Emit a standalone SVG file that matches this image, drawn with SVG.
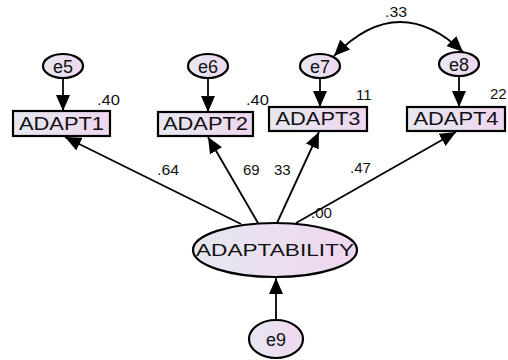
<svg xmlns="http://www.w3.org/2000/svg" width="508" height="360" viewBox="0 0 508 360">
<defs>
<linearGradient id="g" x1="0" y1="0" x2="1" y2="0">
<stop offset="0" stop-color="#e6e8f0"/>
<stop offset="1" stop-color="#f0d6f0"/>
</linearGradient>
<marker id="ah" viewBox="0 0 16 14" markerWidth="16" markerHeight="14" refX="16" refY="7" markerUnits="userSpaceOnUse" orient="auto-start-reverse">
<path d="M0,0 L16,7 L0,14 z" fill="#000"/>
</marker>
</defs>
<style>
.n{fill:url(#g);stroke:#000;stroke-width:2.2}
.t{font-family:"Liberation Sans",Arial,sans-serif;fill:#111;text-anchor:middle}
.lab{font-size:18px}
.num{font-family:"Liberation Sans",Arial,sans-serif;font-size:15px;fill:#111}
.c{fill:none;stroke:#000;stroke-width:1.8;marker-end:url(#ah)}
</style>
<g id="connectors">
<line class="c" x1="63" y1="78" x2="63" y2="111"/>
<line class="c" x1="208" y1="78" x2="208" y2="112"/>
<line class="c" x1="320" y1="78" x2="320" y2="107"/>
<line class="c" x1="459" y1="76" x2="459" y2="107"/>
<line class="c" x1="241" y1="224" x2="65" y2="137"/>
<line class="c" x1="258" y1="223" x2="208" y2="137"/>
<line class="c" x1="277" y1="223" x2="319" y2="132"/>
<line class="c" x1="296" y1="223" x2="456" y2="132"/>
<line class="c" x1="276" y1="320" x2="276" y2="278"/>
<path class="c" d="M334,56 Q398,-10 463,52" marker-start="url(#ah)"/>
</g>
<g id="e5"><ellipse class="n" cx="63" cy="66" rx="20" ry="12"/><text class="t lab" x="63" y="72.5" font-size="19">e5</text></g>
<g id="e6"><ellipse class="n" cx="208" cy="66" rx="20" ry="12"/><text class="t lab" x="208" y="72.5" font-size="19">e6</text></g>
<g id="e7"><ellipse class="n" cx="320" cy="66" rx="20" ry="12"/><text class="t lab" x="320" y="72.5" font-size="19">e7</text></g>
<g id="e8"><ellipse class="n" cx="459" cy="64" rx="20" ry="12"/><text class="t lab" x="459" y="70.5" font-size="19">e8</text></g>
<g id="e9"><ellipse class="n" cx="276" cy="339" rx="27" ry="19"/><text class="t lab" x="276" y="345.5" font-size="19">e9</text></g>
<g id="ADAPT1"><rect class="n" x="13" y="111" width="97" height="25"/><text class="t lab" x="61.5" y="130" textLength="85" lengthAdjust="spacingAndGlyphs">ADAPT1</text></g>
<g id="ADAPT2"><rect class="n" x="158" y="112" width="95" height="24"/><text class="t lab" x="205.5" y="130" textLength="85" lengthAdjust="spacingAndGlyphs">ADAPT2</text></g>
<g id="ADAPT3"><rect class="n" x="269" y="107" width="98" height="24"/><text class="t lab" x="318" y="125" textLength="85" lengthAdjust="spacingAndGlyphs">ADAPT3</text></g>
<g id="ADAPT4"><rect class="n" x="407" y="107" width="98" height="24"/><text class="t lab" x="456" y="125" textLength="85" lengthAdjust="spacingAndGlyphs">ADAPT4</text></g>
<g id="ADAPTABILITY"><ellipse class="n" cx="275" cy="250" rx="82" ry="27"/><text class="t" x="275" y="256" font-size="17" textLength="158" lengthAdjust="spacingAndGlyphs">ADAPTABILITY</text></g>
<g id="labels">
<text class="num" x="97" y="105" textLength="23" lengthAdjust="spacingAndGlyphs">.40</text>
<text class="num" x="246" y="105" textLength="23" lengthAdjust="spacingAndGlyphs">.40</text>
<text class="num" x="356" y="100">11</text>
<text class="num" x="490" y="99">22</text>
<text class="num" x="385" y="17" textLength="22" lengthAdjust="spacingAndGlyphs">.33</text>
<text class="num" x="157" y="175" textLength="22" lengthAdjust="spacingAndGlyphs">.64</text>
<text class="num" x="243" y="175">69</text>
<text class="num" x="274" y="175">33</text>
<text class="num" x="350" y="173" textLength="21" lengthAdjust="spacingAndGlyphs">.47</text>
<text class="num" x="311" y="218" textLength="21" lengthAdjust="spacingAndGlyphs">.00</text>
</g>
</svg>
